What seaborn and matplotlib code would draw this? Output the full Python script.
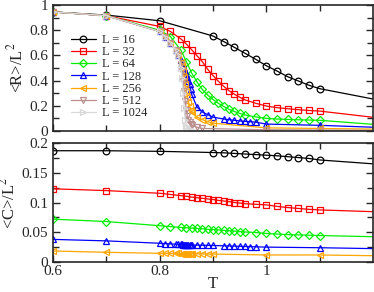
import pandas as pd
import seaborn as sns
import matplotlib.pyplot as plt
from matplotlib.ticker import MultipleLocator, FixedLocator, FuncFormatter

# <R>/L^2 and <C>/L^2 against temperature for several lattice sizes.

sns.set_style("ticks")
plt.rcParams['font.family'] = ['Liberation Serif', 'DejaVu Serif']
plt.rcParams['mathtext.fontset'] = 'stix'

sizes = [16, 32, 64, 128, 256, 512, 1024]
colors = ['#000000', '#ff0000', '#00ee00', '#0000ff', '#ffa500', '#bc8f8f', '#d8d8d8']
markers = ['o', 's', 'D', '^', '<', 'v', '>']

t16 = [0.6, 0.7, 0.8, 0.9, 0.92, 0.94, 0.96, 0.98, 1.0, 1.02, 1.04, 1.06, 1.08, 1.1, 1.2]
r16 = [0.945, 0.92, 0.875, 0.754, 0.71, 0.664, 0.617, 0.569, 0.518, 0.476, 0.431, 0.397, 0.363, 0.336, 0.254]
c16 = [0.187, 0.187, 0.186, 0.184, 0.1835, 0.1825, 0.1815, 0.1805, 0.1795, 0.1785, 0.177, 0.1755, 0.174, 0.1715, 0.165]

t32 = [0.6, 0.7, 0.8, 0.82, 0.84, 0.85, 0.86, 0.87, 0.88, 0.89, 0.9, 0.91, 0.92, 0.93, 0.94, 0.95, 0.96,
       0.98, 1.0, 1.02, 1.04, 1.06, 1.08, 1.1, 1.2]
r32 = [0.945, 0.915, 0.83, 0.79, 0.73, 0.69, 0.645, 0.597, 0.55, 0.49, 0.44, 0.395, 0.355, 0.32, 0.292,
       0.268, 0.247, 0.22, 0.198, 0.185, 0.177, 0.169, 0.163, 0.158, 0.109]
c32 = [0.123, 0.120, 0.1155, 0.1135, 0.1115, 0.1105, 0.109, 0.108, 0.107, 0.106, 0.105, 0.1035, 0.1025,
       0.1015, 0.1, 0.099, 0.098, 0.097, 0.096, 0.0935, 0.0915, 0.09, 0.0885, 0.0875, 0.0846]

t64 = t32
r64 = [0.945, 0.915, 0.80, 0.75, 0.64, 0.55, 0.46, 0.39, 0.33, 0.285, 0.25, 0.22, 0.195, 0.172, 0.155,
       0.14, 0.127, 0.112, 0.10, 0.095, 0.092, 0.089, 0.087, 0.085, 0.053]
c64 = [0.072, 0.068, 0.061, 0.0595, 0.058, 0.0575, 0.057, 0.0565, 0.056, 0.055, 0.0545, 0.054, 0.053,
       0.0525, 0.052, 0.051, 0.0505, 0.0495, 0.048, 0.047, 0.046, 0.0455, 0.045, 0.0445, 0.0425]

t128 = [0.6, 0.7, 0.8, 0.81, 0.82, 0.83, 0.835, 0.84, 0.842, 0.844, 0.846, 0.848, 0.85, 0.852, 0.854,
        0.856, 0.858, 0.86, 0.87, 0.88, 0.89, 0.9, 0.92, 0.93, 0.94, 0.95, 0.96, 0.97, 0.98, 1.0, 1.1, 1.2]
r128 = [0.945, 0.915, 0.79, 0.745, 0.70, 0.64, 0.60, 0.56, 0.54, 0.52, 0.50, 0.48, 0.455, 0.43, 0.40,
        0.37, 0.33, 0.29, 0.19, 0.15, 0.13, 0.11, 0.095, 0.09, 0.085, 0.08, 0.077, 0.074, 0.07, 0.055,
        0.045, 0.03]
c128 = [0.038, 0.0355, 0.0315, 0.031, 0.0305, 0.030, 0.0298, 0.0296, 0.0295, 0.0294, 0.0293, 0.0292,
        0.0291, 0.029, 0.0289, 0.0288, 0.0287, 0.0286, 0.0284, 0.0282, 0.028, 0.0278, 0.0272, 0.027,
        0.0267, 0.0264, 0.0261, 0.0258, 0.0255, 0.025, 0.024, 0.0225]

t256 = [0.6, 0.7, 0.8, 0.81, 0.82, 0.83, 0.835, 0.84, 0.842, 0.844, 0.846, 0.848, 0.85, 0.852, 0.854,
        0.856, 0.858, 0.86, 0.87, 0.88, 0.89, 0.9, 1.0, 1.1, 1.2]
r256 = [0.945, 0.915, 0.79, 0.745, 0.70, 0.64, 0.60, 0.55, 0.52, 0.48, 0.43, 0.37, 0.32, 0.27, 0.23,
        0.20, 0.17, 0.15, 0.11, 0.09, 0.075, 0.062, 0.025, 0.02, 0.015]
c256 = [0.0185, 0.0163, 0.0146, 0.0145, 0.0144, 0.0143, 0.0143, 0.0142, 0.0142, 0.0141, 0.0141, 0.014,
        0.014, 0.014, 0.0139, 0.0139, 0.0139, 0.0138, 0.0137, 0.0136, 0.0135, 0.0134, 0.0118, 0.0118, 0.0106]

t512 = [0.6, 0.7, 0.8, 0.81, 0.82, 0.83, 0.835, 0.84, 0.842, 0.844, 0.846, 0.848, 0.85, 0.852, 0.854,
        0.856, 0.858, 0.86, 0.87, 0.88, 1.0, 1.1, 1.2]
r512 = [0.945, 0.915, 0.79, 0.745, 0.70, 0.64, 0.60, 0.53, 0.48, 0.40, 0.32, 0.24, 0.17, 0.12, 0.09,
        0.07, 0.055, 0.045, 0.03, 0.02, 0.01, 0.008, 0.005]

t1024 = [0.6, 0.7, 0.8, 0.81, 0.82, 0.83, 0.835, 0.84, 0.842, 0.844, 0.846, 0.848, 0.85, 0.852, 0.855, 0.86]
r1024 = [0.945, 0.915, 0.79, 0.745, 0.70, 0.64, 0.60, 0.50, 0.42, 0.30, 0.18, 0.09, 0.04, 0.02, 0.01, 0.005]

temps = [t16, t32, t64, t128, t256, t512, t1024]
rvals = [r16, r32, r64, r128, r256, r512, r1024]
cvals = [c16, c32, c64, c128, c256]
# last point of each curve lies at the right edge and carries no symbol
ends = [True, True, True, True, True, True, False]

fig = plt.figure(figsize=(3.74, 2.92), dpi=100)
ax1 = fig.add_axes([53 / 374, 1 - 131 / 292, 320 / 374, 126 / 292])
ax2 = fig.add_axes([53 / 374, 1 - 262 / 292, 320 / 374, 119 / 292])


def draw(ax, t, y, i, label=None):
    df = pd.DataFrame({'T': t, 'y': y})
    n = len(df) - 1 if ends[i] else len(df)
    ms = 4.0 if markers[i] == 'D' else 4.8
    sns.lineplot(data=df, x='T', y='y', ax=ax, color=colors[i], lw=0.9, marker=markers[i],
                 markevery=list(range(n)), ms=ms, mfc='none', mec=colors[i], mew=0.9,
                 label=label, legend=False)


for i, L in enumerate(sizes):
    draw(ax1, temps[i], rvals[i], i, label=f"L = {L}")
for i in range(len(cvals)):
    draw(ax2, temps[i], cvals[i], i)

fmt = FuncFormatter(lambda v, p: f"{v:g}")
for ax in (ax1, ax2):
    ax.set_xlim(0.6, 1.2)
    ax.xaxis.set_major_locator(FixedLocator([0.6, 0.8, 1.0]))
    ax.xaxis.set_minor_locator(FixedLocator([0.7, 0.9, 1.1]))
    ax.tick_params(which='both', direction='in', top=True, right=True, labelsize=11, width=1)
    ax.tick_params(which='major', length=5)
    ax.tick_params(which='minor', length=4)
    for s in ax.spines.values():
        s.set_linewidth(1.2)
    ax.xaxis.set_major_formatter(fmt)
    ax.yaxis.set_major_formatter(fmt)

ax1.set_ylim(0, 1)
ax1.yaxis.set_major_locator(MultipleLocator(0.2))
ax1.yaxis.set_minor_locator(MultipleLocator(0.1))
ax1.tick_params(labelbottom=False)
ax1.set_xlabel('')
ax1.set_ylabel(r'<R>/L$^2$', fontsize=12, labelpad=2)

ax2.set_ylim(0, 0.2)
ax2.yaxis.set_major_locator(MultipleLocator(0.05))
ax2.yaxis.set_minor_locator(MultipleLocator(0.025))
ax2.tick_params(axis='x', pad=2)
ax2.set_xlabel('T', fontsize=12, labelpad=-1)
ax2.set_ylabel(r'<C>/L$^2$', fontsize=12, labelpad=2)

ax1.legend(loc='upper left', bbox_to_anchor=(0.04, 0.81), frameon=False, fontsize=9,
           handlelength=2.0, handletextpad=0.5, labelspacing=0.02, borderaxespad=0)

fig.savefig('out.png', dpi=100)
